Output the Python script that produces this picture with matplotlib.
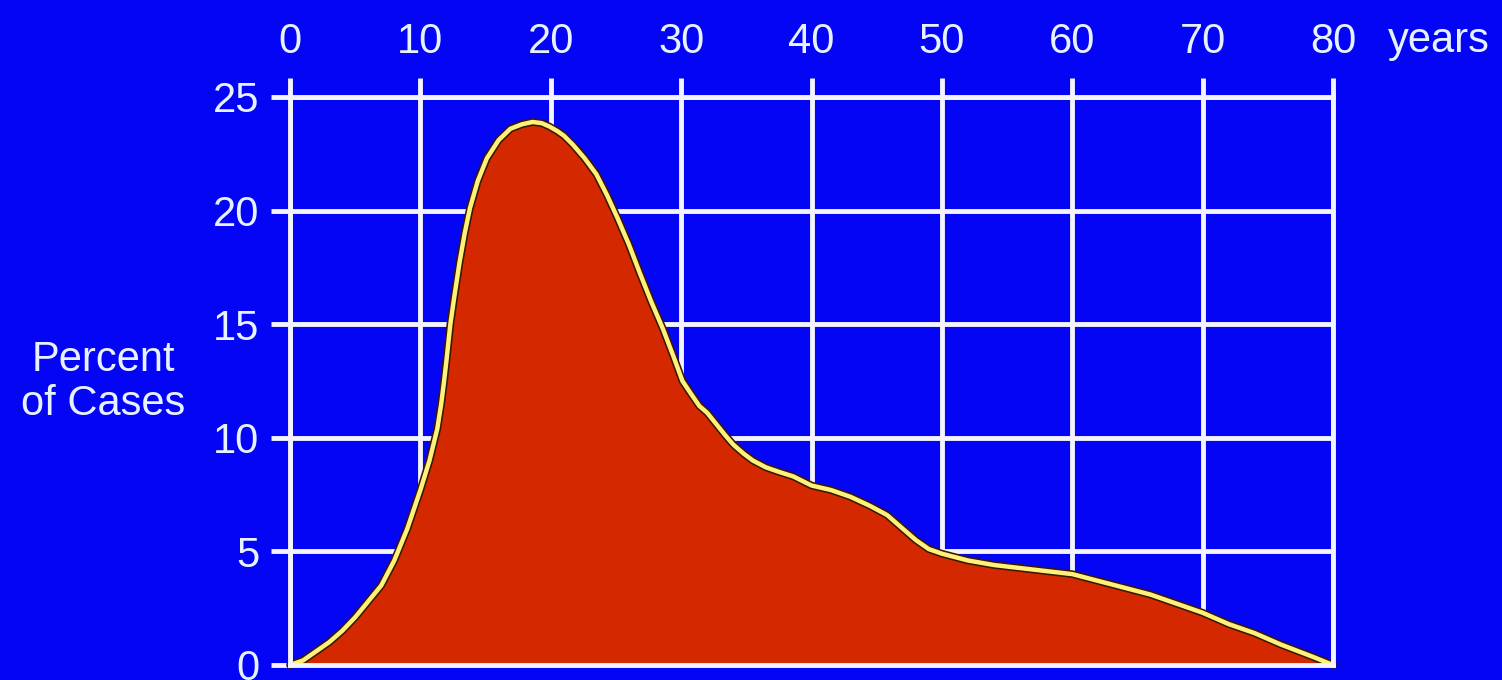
import matplotlib
matplotlib.use("Agg")
import matplotlib.pyplot as plt
import matplotlib.patheffects as pe

plt.rcParams['font.family'] = ['Liberation Sans', 'DejaVu Sans']

# age (years) vs percent of cases
age = [0, 1, 2, 3, 4, 5, 6, 7, 8, 9, 10, 10.7, 11.0, 11.3, 11.6, 11.8, 12.0, 12.3,
       12.6, 13.0, 13.4, 13.8, 14.4, 15.1, 16.0, 16.9, 17.8, 18.6, 19.3, 19.9,
       20.5, 21.0, 21.7, 22.6, 23.5, 24.3, 25.1, 26.0, 26.8, 27.7, 28.6, 29.4,
       30.1, 30.8, 31.4, 32.0, 32.7, 33.4, 34.0, 34.8, 35.5, 36.5, 37.5, 38.6, 40,
       41.5, 43, 44.5, 45.8, 47, 48, 49, 50, 52, 54, 57, 60, 62, 64, 66, 68, 70,
       72, 74, 76, 78.5, 80]
pct = [0, 0.2, 0.6, 1.0, 1.5, 2.1, 2.8, 3.5, 4.6, 6.0, 7.7, 9.0, 9.7, 10.4, 11.5,
       12.4, 13.4, 15.0, 16.2, 17.7, 19.0, 20.1, 21.3, 22.3, 23.1, 23.6, 23.8,
       23.9, 23.85, 23.7, 23.5, 23.3, 22.9, 22.3, 21.6, 20.7, 19.7, 18.5, 17.3,
       16.0, 14.8, 13.6, 12.5, 11.9, 11.4, 11.1, 10.6, 10.1, 9.7, 9.3, 9.0, 8.7,
       8.5, 8.3, 7.9, 7.7, 7.4, 7.0, 6.6, 6.0, 5.5, 5.1, 4.9, 4.6, 4.4, 4.2, 4.0,
       3.7, 3.4, 3.1, 2.7, 2.3, 1.8, 1.4, 0.9, 0.35, 0]

x_ticks = list(range(0, 81, 10))
y_ticks = list(range(0, 26, 5))

bg = '#0505F5'
txt = '#E6F2FF'
white = '#F4F4FF'

fig = plt.figure(figsize=(15.02, 6.8), dpi=100, facecolor=bg)
ax = fig.add_axes([290/1502, 15/680, 1043/1502, 568/680], facecolor=bg)

ax.fill_between(age, pct, 0, color='#D42800', zorder=1, lw=0)
ax.plot(age, pct, color='#FFF27A', lw=3.2, zorder=2, clip_on=False,
        solid_joinstyle='round', solid_capstyle='round',
        path_effects=[pe.Stroke(linewidth=5.5, foreground='#3A1800'), pe.Normal()])

ax.set_xlim(0, 80)
ax.set_ylim(0, 25)
ax.set_xticks(x_ticks)
ax.set_yticks(y_ticks)
ax.xaxis.tick_top()
ax.set_axisbelow(True)
ax.grid(True, color=white, lw=3.5)

for s in ax.spines.values():
    s.set_color(white)
    s.set_linewidth(3.5)
    s.set_zorder(3)

ax.tick_params(axis='x', colors=white, length=14, width=3.5, pad=11,
               labelsize=30, labelcolor=txt)
ax.tick_params(axis='y', colors=white, length=14, width=3.5, pad=8,
               labelsize=30, labelcolor=txt)

fig.text(1388/1502, 1 - 52/680, 'years', color=txt, fontsize=30,
         ha='left', va='baseline')
fig.text(103/1502, 1 - 382/680, 'Percent\nof Cases', color=txt, fontsize=30,
         ha='center', va='center', multialignment='center', linespacing=1.15)

fig.savefig('out.png', dpi=100, facecolor=bg)
